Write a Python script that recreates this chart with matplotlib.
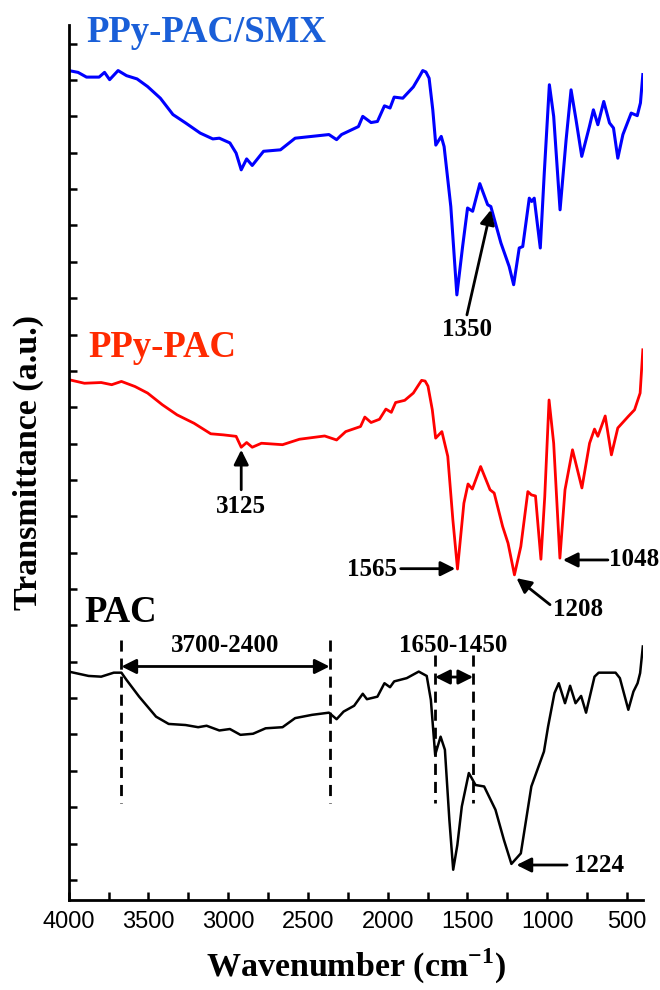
import matplotlib
matplotlib.use("Agg")
import matplotlib.pyplot as plt
import numpy as np

SERIF = "Liberation Serif"
SANS = "Liberation Sans"
plt.rcParams["mathtext.fontset"] = "custom"
plt.rcParams["mathtext.bf"] = SERIF + ":bold"
plt.rcParams["mathtext.rm"] = SERIF

# ---- FTIR spectra (wavenumber in cm^-1, offset transmittance in a.u.) ----
smx_wn = [4000, 3941, 3888, 3809, 3775, 3743, 3690, 3637, 3571, 3505, 3425, 3346,
          3267, 3175, 3096, 3055, 2989, 2950, 2918, 2884, 2849, 2778, 2672, 2580,
          2474, 2368, 2320, 2289, 2183, 2156, 2104, 2064, 2020, 1985, 1959, 1905,
          1839, 1800, 1780, 1760, 1740, 1717, 1698, 1664, 1646, 1604, 1566, 1530,
          1499, 1467, 1422, 1373, 1353, 1290, 1238, 1210, 1175, 1153, 1112, 1097,
          1081, 1043, 1018, 986, 959, 919, 881, 850, 819, 783, 735, 710, 682, 645,
          609, 584, 557, 525, 473, 435, 415, 400]
smx_t = [22.26, 22.21, 22.08, 22.08, 22.21, 22.01, 22.26, 22.12, 22.03, 21.82, 21.50,
         21.05, 20.82, 20.54, 20.38, 20.40, 20.27, 19.99, 19.53, 19.83, 19.65, 20.04,
         20.08, 20.40, 20.45, 20.50, 20.36, 20.50, 20.72, 21.00, 20.83, 20.86, 21.29,
         21.23, 21.53, 21.50, 21.81, 22.10, 22.26, 22.22, 22.05, 21.18, 20.21, 20.45,
         20.17, 18.52, 16.09, 17.42, 18.48, 18.39, 19.15, 18.57, 18.52, 17.52, 16.87,
         16.37, 17.38, 17.42, 18.75, 18.66, 18.75, 17.38, 19.44, 21.87, 21.00, 18.43,
         20.36, 21.73, 20.91, 19.90, 20.72, 21.18, 20.77, 21.41, 20.82, 20.68, 19.85,
         20.50, 21.09, 21.02, 21.37, 22.15]

ppy_wn = [4000, 3901, 3796, 3730, 3669, 3584, 3505, 3413, 3320, 3214, 3109, 3029,
          2950, 2918, 2884, 2849, 2791, 2659, 2553, 2395, 2320, 2263, 2170, 2143,
          2104, 2051, 2011, 1977, 1950, 1893, 1839, 1805, 1787, 1765, 1747, 1720,
          1699, 1660, 1623, 1591, 1562, 1522, 1496, 1469, 1417, 1358, 1332, 1279,
          1245, 1205, 1165, 1121, 1099, 1073, 1039, 1015, 988, 959, 920, 888, 841,
          782, 734, 703, 682, 636, 597, 557, 491, 452, 417, 400]
ppy_t = [13.76, 13.66, 13.68, 13.62, 13.71, 13.57, 13.39, 13.07, 12.79, 12.56, 12.27,
         12.24, 12.20, 11.90, 12.03, 11.90, 12.01, 11.97, 12.12, 12.21, 12.10, 12.33,
         12.47, 12.73, 12.58, 12.67, 12.95, 12.86, 13.13, 13.19, 13.39, 13.62, 13.74,
         13.72, 13.58, 12.93, 12.15, 12.33, 11.65, 9.90, 8.55, 10.36, 10.89, 10.75,
         11.37, 10.73, 10.64, 9.72, 9.26, 8.39, 9.17, 10.68, 10.59, 10.56, 8.82,
         10.54, 13.20, 12.01, 8.85, 10.73, 11.83, 10.78, 12.01, 12.40, 12.20, 12.76,
         11.69, 12.43, 12.75, 12.93, 13.39, 14.58]

pac_wn = [4000, 3875, 3796, 3717, 3669, 3637, 3558, 3452, 3373, 3267, 3188, 3135,
          3055, 2989, 2923, 2844, 2765, 2659, 2580, 2474, 2368, 2320, 2276, 2210,
          2156, 2130, 2064, 2020, 1985, 1959, 1880, 1805, 1755, 1729, 1702, 1668,
          1641, 1613, 1589, 1563, 1535, 1491, 1449, 1395, 1324, 1271, 1224, 1165,
          1099, 1020, 994, 954, 927, 888, 856, 822, 787, 756, 703, 677, 571, 544,
          491, 459, 433, 417, 400]
pac_t = [5.73, 5.61, 5.59, 5.70, 5.70, 5.50, 5.04, 4.49, 4.29, 4.26, 4.20, 4.24,
         4.11, 4.15, 3.99, 4.02, 4.17, 4.20, 4.45, 4.54, 4.60, 4.42, 4.63, 4.79,
         5.12, 4.97, 5.04, 5.41, 5.30, 5.46, 5.55, 5.73, 5.61, 4.95, 3.44, 3.94,
         3.58, 1.65, 0.28, 0.96, 2.02, 2.94, 2.61, 2.57, 1.93, 1.10, 0.44, 0.73,
         2.57, 3.53, 4.22, 5.14, 5.41, 4.86, 5.34, 4.86, 5.06, 4.60, 5.59, 5.70,
         5.70, 5.55, 4.68, 5.18, 5.41, 5.69, 6.42]

x_ticks = [4000, 3500, 3000, 2500, 2000, 1500, 1000, 500]

fig = plt.figure(figsize=(6.6, 9.9), dpi=100)
ax = fig.add_axes([0.104, 0.091, 0.870, 0.884])

ax.plot(smx_wn, smx_t, color="#0000ff", lw=2.2, solid_joinstyle="round")
ax.plot(ppy_wn, ppy_t, color="#ff0000", lw=2.0, solid_joinstyle="round")
ax.plot(pac_wn, pac_t, color="black", lw=1.8, solid_joinstyle="round")

ax.set_xlim(4000, 400)
ax.set_ylim(-0.55, 23.52)
ax.set_xticks(x_ticks)
ax.set_xticks(np.arange(3750, 400, -500), minor=True)
ax.set_yticks(np.arange(0, 24))
ax.set_yticklabels([])
for s in ("top", "right"):
    ax.spines[s].set_visible(False)
for s in ("left", "bottom"):
    ax.spines[s].set_linewidth(2)
ax.tick_params(axis="both", which="both", direction="in", width=1.8, length=6)
ax.tick_params(axis="x", which="major", labelsize=17, pad=8)
for lab in ax.get_xticklabels():
    lab.set_fontfamily(SANS)

ax.set_xlabel("Wavenumber (cm$^{\\mathbf{-1}}$)", fontfamily=SERIF, fontweight="bold",
              fontsize=24.5, labelpad=10)
ax.set_ylabel("Transmittance (a.u.)", fontfamily=SERIF, fontweight="bold",
              fontsize=24.5, labelpad=14)

# series names
ax.text(3890, 23.30, "PPy-PAC/SMX", color="#1a5fd8", fontfamily=SERIF,
        fontweight="bold", fontsize=26.5, va="center", ha="left")
ax.text(3878, 14.64, "PPy-PAC", color="#ff2a00", fontfamily=SERIF,
        fontweight="bold", fontsize=26.5, va="center", ha="left")
ax.text(3903, 7.35, "PAC", color="black", fontfamily=SERIF,
        fontweight="bold", fontsize=26.5, va="center", ha="left")

ann_font = dict(fontfamily=SERIF, fontweight="bold", fontsize=18, color="black",
                va="center", ha="center")


def arrow(tip, tail, style="-|>"):
    ax.annotate("", xy=tip, xytext=tail,
                arrowprops=dict(arrowstyle=style, color="black", lw=2,
                                mutation_scale=22, shrinkA=0, shrinkB=0),
                annotation_clip=False)


# PPy-PAC/SMX band
arrow((1353, 18.43), (1503, 15.54))
ax.text(1503, 15.13, "1350", **ann_font)

# PPy-PAC bands
arrow((2918, 11.83), (2918, 10.73))
ax.text(2918, 10.27, "3125", **ann_font)
arrow((1576, 8.56), (1918, 8.56))
ax.text(2096, 8.55, "1565", **ann_font)
arrow((1192, 8.30), (982, 7.57))
ax.text(809, 7.45, "1208", **ann_font)
arrow((901, 8.80), (619, 8.80))
ax.text(457, 8.80, "1048", clip_on=False, **ann_font)

# PAC bands
for xv, ytop in [(3669, 6.60), (2364, 6.60), (1702, 6.19), (1464, 6.19)]:
    ax.plot([xv, xv], [ytop, 2.12], color="black", lw=2, linestyle=(0, (4, 2.5)))
arrow((2364, 5.87), (3669, 5.87), style="<|-|>")
ax.text(3017, 6.46, "3700-2400", **ann_font)
arrow((1464, 5.58), (1702, 5.58), style="<|-|>")
ax.text(1589, 6.46, "1650-1450", **ann_font)
arrow((1192, 0.41), (875, 0.41))
ax.text(677, 0.41, "1224", **ann_font)

fig.savefig("out.png", dpi=100)
